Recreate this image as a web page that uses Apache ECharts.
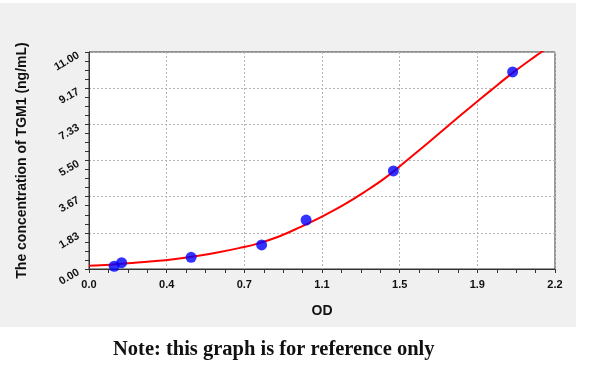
<!DOCTYPE html>
<html>
<head>
<meta charset="utf-8">
<script src="https://cdn.jsdelivr.net/npm/echarts@6/dist/echarts.min.js"></script>
<style>
html,body{margin:0;padding:0;background:#ffffff;}
#chart{width:600px;height:369px;}
</style>
</head>
<body>
<div id="chart"></div>
<script>
// Standard points (OD vs concentration)
var pointOD = [0.119, 0.154, 0.482, 0.815, 1.025, 1.437, 2.000];
var pointConc = [0.14, 0.32, 0.59, 1.22, 2.48, 4.97, 9.99];
// Fitted curve samples
var curveOD = [0, 0.1, 0.2, 0.3, 0.4, 0.524, 0.6, 0.713, 0.8, 0.9, 1.0, 1.1, 1.2, 1.3, 1.4, 1.5, 1.6, 1.7, 1.8, 1.9, 2.0, 2.1, 2.16];
var curveConc = [0.16, 0.22, 0.30, 0.39, 0.50, 0.68, 0.82, 1.07, 1.30, 1.66, 2.14, 2.66, 3.24, 3.90, 4.63, 5.50, 6.39, 7.30, 8.20, 9.08, 9.94, 10.73, 11.18];
// Tick labels
var xTickLabels = ['0.0', '0.4', '0.7', '1.1', '1.5', '1.9', '2.2'];
var yTickLabels = ['0.00', '1.83', '3.67', '5.50', '7.33', '9.17', '11.00'];
var xMax = 2.2, yMax = 11;
var xTitle = 'OD';
var yTitle = 'The concentration of TGM1 (ng/mL)';
var noteText = 'Note: this graph is for reference only';

var xInt = xMax / 6, yInt = yMax / 6;
var chart = echarts.init(document.getElementById('chart'), null, {renderer: 'canvas'});
var lab = {fontFamily: 'Liberation Sans, Arial, sans-serif', fontWeight: 'bold', fontSize: 11, color: '#111'};
var split = {show: true, lineStyle: {color: '#b4b4b4', type: [2, 2], width: 1}};
var nameStyle = {fontFamily: 'Liberation Sans, Arial, sans-serif', fontWeight: 'bold', fontSize: 14, color: '#111'};
chart.setOption({
  animation: false,
  graphic: [
    {type: 'rect', z: -10, shape: {x: 0, y: 3, width: 576, height: 324}, style: {fill: '#f0f0f0'}},
    {type: 'text', left: 113, top: 339, style: {text: noteText, font: 'bold 20.5px "Liberation Serif", "Times New Roman", serif', fill: '#111'}}
  ],
  grid: {left: 89, right: 45, top: 52, bottom: 100, show: true, backgroundColor: '#ffffff', borderColor: '#333', borderWidth: 1},
  xAxis: {
    type: 'value', min: 0, max: xMax, interval: xInt,
    name: xTitle, nameLocation: 'middle', nameGap: 35,
    nameTextStyle: nameStyle,
    axisLine: {lineStyle: {color: '#333', width: 1}},
    axisTick: {show: true, length: 4, lineStyle: {color: '#333'}},
    minorTick: {show: true, splitNumber: 4, length: 4, lineStyle: {color: '#333'}},
    axisLabel: Object.assign({margin: 10, formatter: function (v) { return xTickLabels[Math.round(v / xInt)]; }}, lab),
    splitLine: split
  },
  yAxis: {
    type: 'value', min: 0, max: yMax, interval: yInt,
    name: yTitle, nameLocation: 'middle', nameGap: 60,
    nameTextStyle: nameStyle,
    axisLine: {show: true, lineStyle: {color: '#333', width: 1}},
    axisTick: {show: true, length: 4, lineStyle: {color: '#333'}},
    minorTick: {show: true, splitNumber: 4, length: 4, lineStyle: {color: '#333'}},
    axisLabel: Object.assign({margin: 12, rotate: 30, verticalAlign: 'top', lineHeight: 6, formatter: function (v) { return yTickLabels[Math.round(v / yInt)]; }}, lab),
    splitLine: split
  },
  series: [
    {
      type: 'line', data: curveOD.map(function (x, i) { return [x, curveConc[i]]; }),
      smooth: 0.4, showSymbol: false, clip: true,
      lineStyle: {color: '#ff0000', width: 2}, z: 2
    },
    {
      type: 'scatter', data: pointOD.map(function (x, i) { return [x, pointConc[i]]; }),
      symbol: 'circle', symbolSize: 11, itemStyle: {color: '#0000ff'}, z: 3
    }
  ]
});
</script>
</body>
</html>
